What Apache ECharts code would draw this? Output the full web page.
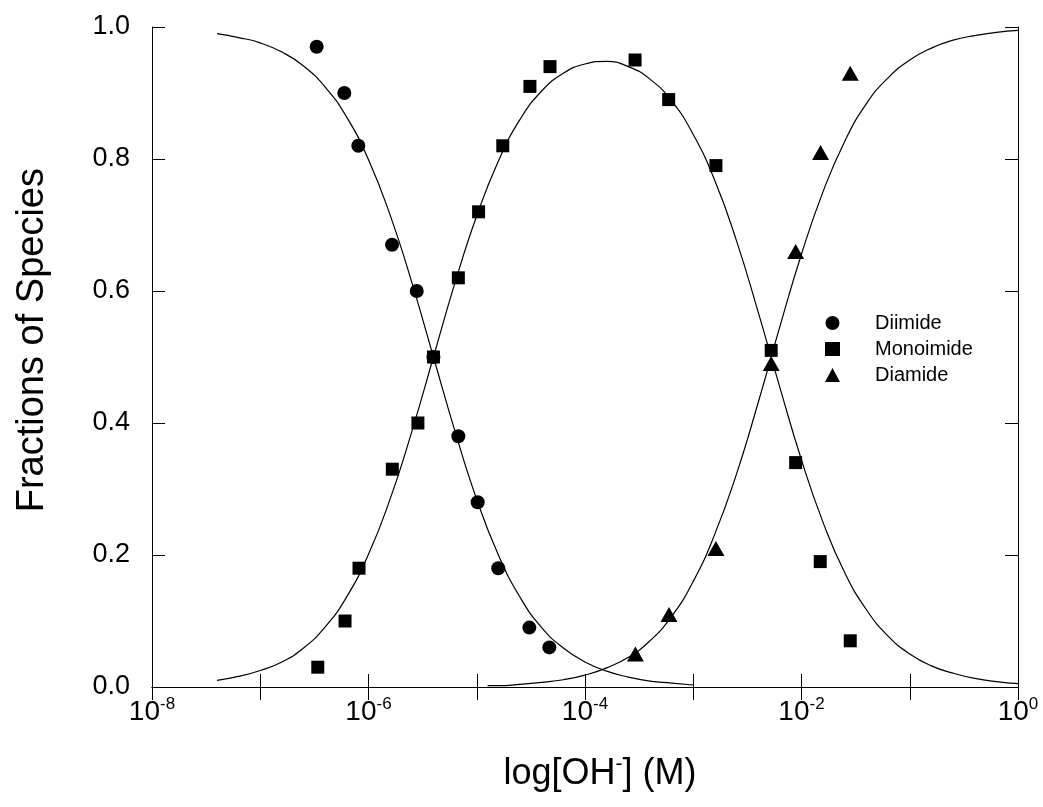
<!DOCTYPE html>
<html>
<head>
<meta charset="utf-8">
<script src="https://cdn.jsdelivr.net/npm/echarts@6/dist/echarts.min.js"></script>
<style>
  html, body { margin: 0; padding: 0; background: #fff; }
  #chart { width: 1043px; height: 807px; }
</style>
</head>
<body>
<div id="chart"></div>
<script>
// measured points, x = [OH-] in M, y = fraction
var diimideX = [3.32e-7, 5.98e-7, 8.05e-7, 1.65e-6, 2.79e-6, 3.98e-6, 6.76e-6, 1.02e-5, 1.58e-5, 3.06e-5, 4.68e-5];
var diimideY = [0.97, 0.90, 0.82, 0.67, 0.60, 0.50, 0.38, 0.28, 0.18, 0.09, 0.06];

var monoX = [3.40e-7, 6.07e-7, 8.17e-7, 1.66e-6, 2.86e-6, 3.98e-6, 6.76e-6, 1.04e-5, 1.74e-5, 3.10e-5, 4.75e-5,
             2.90e-4, 5.93e-4, 1.62e-3, 5.25e-3, 8.83e-3, 1.49e-2, 2.82e-2];
var monoY = [0.03, 0.10, 0.18, 0.33, 0.40, 0.50, 0.62, 0.72, 0.82, 0.91, 0.94,
             0.95, 0.89, 0.79, 0.51, 0.34, 0.19, 0.07];

var diamideX = [2.92e-4, 5.97e-4, 1.62e-3, 5.25e-3, 8.83e-3, 1.50e-2, 2.82e-2];
var diamideY = [0.05, 0.11, 0.21, 0.49, 0.66, 0.81, 0.93];

var curveDLog = [-7.4, -7.2, -7.0, -6.8, -6.6, -6.4, -6.2, -6.0, -5.8, -5.6, -5.4, -5.2, -5.0, -4.8, -4.6, -4.4,
                 -4.2, -4.0, -3.8, -3.6, -3.4, -3.2, -3.0];
var curveD = [0.990, 0.984, 0.976, 0.962, 0.941, 0.909, 0.863, 0.799, 0.715, 0.613, 0.500, 0.387, 0.284, 0.200,
              0.136, 0.090, 0.059, 0.038, 0.024, 0.015, 0.009, 0.006, 0.003];

var curveMLog = [-7.4, -7.2, -7.0, -6.8, -6.6, -6.4, -6.2, -6.0, -5.8, -5.6, -5.4, -5.2, -5.0, -4.8, -4.6, -4.4,
                 -4.2, -4.0, -3.8, -3.6, -3.4, -3.2, -3.0, -2.8, -2.6, -2.4, -2.2, -2.0, -1.8, -1.6, -1.4, -1.2,
                 -1.0, -0.8, -0.6, -0.4, -0.2, 0.0];
var curveM = [0.010, 0.016, 0.025, 0.038, 0.059, 0.091, 0.137, 0.201, 0.285, 0.387, 0.500, 0.613, 0.714, 0.797,
              0.860, 0.903, 0.930, 0.944, 0.948, 0.940, 0.921, 0.888, 0.837, 0.767, 0.676, 0.568, 0.454, 0.344,
              0.249, 0.173, 0.117, 0.077, 0.050, 0.032, 0.021, 0.013, 0.008, 0.005];

var curveALog = [-4.9, -4.8, -4.6, -4.4, -4.2, -4.0, -3.8, -3.6, -3.4, -3.2, -3.0, -2.8, -2.6, -2.4, -2.2, -2.0,
                 -1.8, -1.6, -1.4, -1.2, -1.0, -0.8, -0.6, -0.4, -0.2, 0.0];
var curveA = [0.002, 0.002, 0.004, 0.007, 0.011, 0.018, 0.029, 0.045, 0.070, 0.107, 0.160, 0.232, 0.323, 0.431,
              0.546, 0.656, 0.751, 0.827, 0.884, 0.923, 0.950, 0.968, 0.980, 0.987, 0.992, 0.995];

var FONT = 'Liberation Sans, Arial, sans-serif';

function pairs(xs, ys) {
    return xs.map(function (x, i) { return [x, ys[i]]; });
}
function logPairs(ls, ys) {
    return ls.map(function (l, i) { return [Math.pow(10, l), ys[i]]; });
}

var myChart = echarts.init(document.getElementById('chart'), null, { renderer: 'canvas' });

var xAxisBase = {
    type: 'log',
    logBase: 10,
    min: 1e-8,
    max: 1,
    interval: 1,
    axisLine: { show: true, lineStyle: { color: '#000', width: 1 } },
    axisTick: { show: true, inside: true, length: 13, lineStyle: { color: '#000', width: 1 } },
    splitLine: { show: false },
    minorTick: { show: false }
};
var yAxisBase = {
    type: 'value',
    min: 0,
    max: 1,
    interval: 0.2,
    axisLine: { show: true, lineStyle: { color: '#000', width: 1 } },
    axisTick: { show: true, inside: true, length: 13, lineStyle: { color: '#000', width: 1 } },
    splitLine: { show: false }
};

var option = {
    animation: false,
    backgroundColor: '#fff',
    textStyle: { fontFamily: FONT, color: '#000' },
    grid: { left: 152, right: 25, top: 27, bottom: 120 },
    xAxis: [
        Object.assign({}, xAxisBase, {
            position: 'bottom',
            axisLabel: {
                show: true,
                margin: 9,
                formatter: function (v) {
                    var e = Math.round(Math.log10(v));
                    if (e % 2 !== 0) return '';
                    return '{b|10}{s|' + e + '}';
                },
                rich: {
                    b: { fontSize: 28, fontFamily: FONT, color: '#000' },
                    s: { fontSize: 17, fontFamily: FONT, color: '#000', padding: [0, 0, 15, 0] }
                }
            }
        }),
        Object.assign({}, xAxisBase, { position: 'top', axisLabel: { show: false } })
    ],
    yAxis: [
        Object.assign({}, yAxisBase, {
            position: 'left',
            axisLabel: {
                show: true,
                margin: 22,
                fontSize: 27,
                color: '#000',
                fontFamily: FONT,
                formatter: function (v) { return v.toFixed(1); }
            }
        }),
        Object.assign({}, yAxisBase, { position: 'right', axisLabel: { show: false } })
    ],
    legend: {
        orient: 'vertical',
        left: 820,
        top: 308,
        itemWidth: 15,
        itemHeight: 14,
        itemGap: 6,
        textStyle: { fontSize: 20, color: '#000', fontFamily: FONT, padding: [0, 0, 0, 30] },
        data: [
            { name: 'Diimide', icon: 'circle' },
            { name: 'Monoimide', icon: 'rect' },
            { name: 'Diamide', icon: 'triangle' }
        ]
    },
    graphic: [
        {
            type: 'text',
            left: 14,
            top: 168,
            rotation: Math.PI / 2,
            style: {
                text: 'Fractions of Species',
                font: '38px ' + FONT,
                fill: '#000'
            }
        },
        {
            type: 'text',
            x: 600,
            y: 774,
            style: {
                text: '{a|log[OH}{s|-}{a|] (M)}',
                align: 'center',
                verticalAlign: 'middle',
                rich: {
                    a: { fontSize: 36, fontFamily: FONT, fill: '#000' },
                    s: { fontSize: 21, fontFamily: FONT, fill: '#000', padding: [0, 0, 19, 0] }
                }
            }
        }
    ],
    series: [
        {
            name: 'fitD', type: 'line', data: logPairs(curveDLog, curveD), smooth: true, showSymbol: false,
            lineStyle: { color: '#000', width: 1.2 }, z: 1
        },
        {
            name: 'fitM', type: 'line', data: logPairs(curveMLog, curveM), smooth: true, showSymbol: false,
            lineStyle: { color: '#000', width: 1.2 }, z: 1
        },
        {
            name: 'fitA', type: 'line', data: logPairs(curveALog, curveA), smooth: true, showSymbol: false,
            lineStyle: { color: '#000', width: 1.2 }, z: 1
        },
        {
            name: 'Diimide', type: 'scatter', data: pairs(diimideX, diimideY),
            symbol: 'circle', symbolSize: 14, itemStyle: { color: '#000', opacity: 1 }, z: 3
        },
        {
            name: 'Monoimide', type: 'scatter', data: pairs(monoX, monoY),
            symbol: 'rect', symbolSize: 13, itemStyle: { color: '#000', opacity: 1 }, z: 3
        },
        {
            name: 'Diamide', type: 'scatter', data: pairs(diamideX, diamideY),
            symbol: 'triangle', symbolSize: [17, 15], itemStyle: { color: '#000', opacity: 1 }, z: 3
        }
    ]
};

myChart.setOption(option);
window.addEventListener('resize', function () {
    myChart.resize();
});
</script>
</body>
</html>
